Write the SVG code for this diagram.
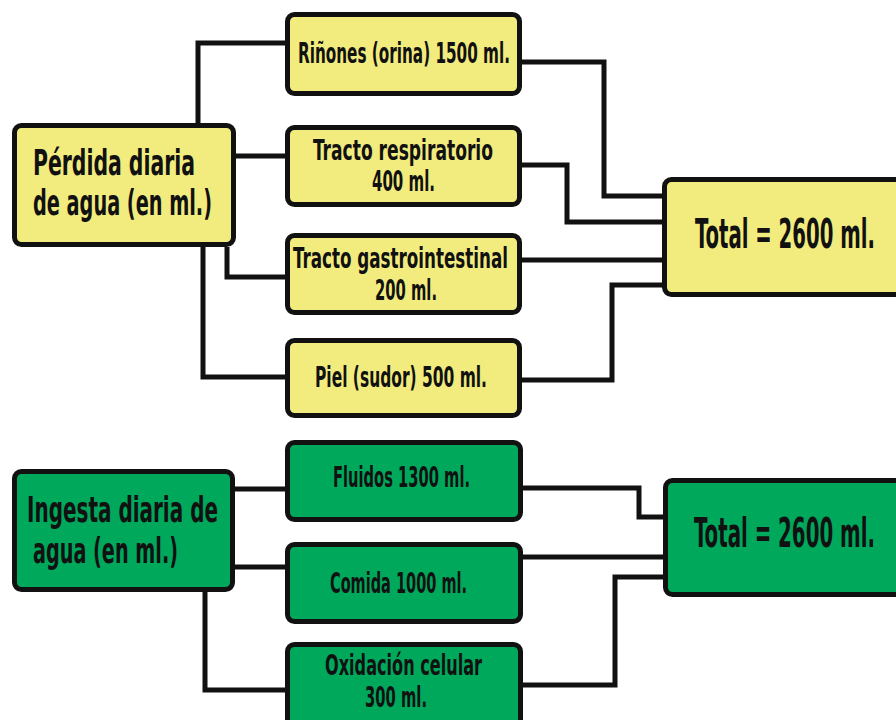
<svg xmlns="http://www.w3.org/2000/svg" width="896" height="720" viewBox="0 0 896 720">
  <style>
    .box { stroke: #111; stroke-width: 5; }
    .loss { fill: #F2EC7E; }
    .gain { fill: #00A85C; }
    .wire { fill: none; stroke: #111; stroke-width: 5; stroke-linejoin: miter; }
    text { font-family: "Liberation Sans Narrow", "DejaVu Sans Condensed", "Liberation Sans", sans-serif; font-weight: bold; fill: #111; }
    .big { font-size: 36px; }
    .mid { font-size: 28px; }
    .tot { font-size: 40px; }
  </style>
  <rect width="896" height="720" fill="#ffffff"/>

  <!-- connectors -->
  <g id="connectors">
    <path class="wire" d="M236,156 H287"/>
    <path class="wire" d="M198,125 V43 H287"/>
    <path class="wire" d="M227,247 V277 H287"/>
    <path class="wire" d="M203,247 V377 H287"/>
    <path class="wire" d="M522,62 H604 V196 H664"/>
    <path class="wire" d="M522,165 H567 V222 H664"/>
    <path class="wire" d="M522,260 H664"/>
    <path class="wire" d="M522,380 H612 V285 H664"/>
    <path class="wire" d="M235,489 H287"/>
    <path class="wire" d="M235,567 H287"/>
    <path class="wire" d="M205,592 V690 H287"/>
    <path class="wire" d="M523,488 H639 V517 H665"/>
    <path class="wire" d="M523,557 H665"/>
    <path class="wire" d="M523,685 H615 V577 H665"/>
  </g>

  <!-- daily water loss -->
  <g id="perdida">
    <rect class="box loss" x="14.5" y="125.5" width="219" height="119" rx="7"/>
    <text class="big" x="33" y="175" textLength="162" lengthAdjust="spacingAndGlyphs">Pérdida diaria</text>
    <text class="big" x="33" y="215" textLength="179" lengthAdjust="spacingAndGlyphs">de agua (en ml.)</text>
  </g>
  <g id="rinones">
    <rect class="box loss" x="287.5" y="14.5" width="232" height="79" rx="7"/>
    <text class="mid" x="298" y="63" textLength="212" lengthAdjust="spacingAndGlyphs">Riñones (orina) 1500 ml.</text>
  </g>
  <g id="respiratorio">
    <rect class="box loss" x="287.5" y="127.5" width="232" height="77" rx="7"/>
    <text class="mid" x="313" y="160" textLength="180" lengthAdjust="spacingAndGlyphs">Tracto respiratorio</text>
    <text class="mid" x="372" y="191" textLength="63" lengthAdjust="spacingAndGlyphs">400 ml.</text>
  </g>
  <g id="gastrointestinal">
    <rect class="box loss" x="287.5" y="235.5" width="232" height="77" rx="7"/>
    <text class="mid" x="293" y="268" textLength="215" lengthAdjust="spacingAndGlyphs">Tracto gastrointestinal</text>
    <text class="mid" x="375" y="300" textLength="62" lengthAdjust="spacingAndGlyphs">200 ml.</text>
  </g>
  <g id="piel">
    <rect class="box loss" x="287.5" y="340.5" width="232" height="75" rx="7"/>
    <text class="mid" x="315" y="387" textLength="172" lengthAdjust="spacingAndGlyphs">Piel (sudor) 500 ml.</text>
  </g>
  <g id="total-perdida">
    <rect class="box loss" x="664.5" y="179.5" width="240" height="115" rx="7"/>
    <text class="tot" transform="translate(695,248) scale(0.55,1)" textLength="327" lengthAdjust="spacingAndGlyphs">Total = 2600 ml.</text>
  </g>

  <!-- daily water intake -->
  <g id="ingesta">
    <rect class="box gain" x="14.5" y="471.5" width="218" height="118" rx="7"/>
    <text class="big" x="27" y="522" textLength="191" lengthAdjust="spacingAndGlyphs">Ingesta diaria de</text>
    <text class="big" x="33" y="563" textLength="145" lengthAdjust="spacingAndGlyphs">agua (en ml.)</text>
  </g>
  <g id="fluidos">
    <rect class="box gain" x="287.5" y="442.5" width="233" height="77" rx="7"/>
    <text class="mid" x="333" y="487" textLength="137" lengthAdjust="spacingAndGlyphs">Fluidos 1300 ml.</text>
  </g>
  <g id="comida">
    <rect class="box gain" x="287.5" y="544.5" width="233" height="77" rx="7"/>
    <text class="mid" x="330" y="593" textLength="137" lengthAdjust="spacingAndGlyphs">Comida 1000 ml.</text>
  </g>
  <g id="oxidacion">
    <rect class="box gain" x="287.5" y="644.5" width="233" height="82" rx="7"/>
    <text class="mid" x="325" y="675" textLength="157" lengthAdjust="spacingAndGlyphs">Oxidación celular</text>
    <text class="mid" x="365" y="707" textLength="62" lengthAdjust="spacingAndGlyphs">300 ml.</text>
  </g>
  <g id="total-ingesta">
    <rect class="box gain" x="665.5" y="480.5" width="240" height="114" rx="7"/>
    <text class="tot" transform="translate(694,547) scale(0.55,1)" textLength="329" lengthAdjust="spacingAndGlyphs">Total = 2600 ml.</text>
  </g>
</svg>
